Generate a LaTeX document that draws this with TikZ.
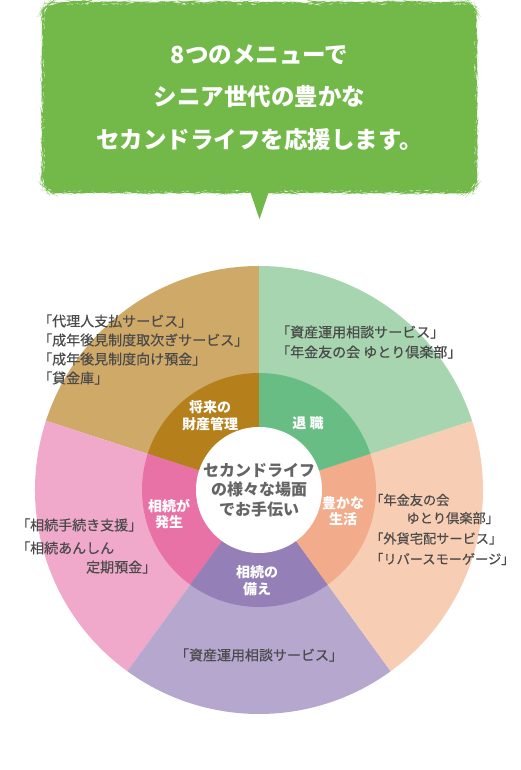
\documentclass[tikz,border=0pt]{standalone}
\usepackage{fontspec}
\newfontfamily\jpfont{Noto Sans CJK JP}
\newfontfamily\jpmed[FakeBold=0.4]{Noto Sans CJK JP}
\usetikzlibrary{decorations.pathmorphing}
\definecolor{bubblegreen}{HTML}{72B94A}
\definecolor{tanout}{HTML}{CFA968}
\definecolor{taninn}{HTML}{B5801C}
\definecolor{greenout}{HTML}{A6D5AF}
\definecolor{greeninn}{HTML}{68BD84}
\definecolor{orangeout}{HTML}{F7CEB4}
\definecolor{orangeinn}{HTML}{F2AC8B}
\definecolor{purpleout}{HTML}{B6A7CF}
\definecolor{purpleinn}{HTML}{9480B7}
\definecolor{pinkout}{HTML}{F0A9CB}
\definecolor{pinkinn}{HTML}{E872A6}
\definecolor{textgray}{HTML}{4A4A4A}

\begin{document}
\begin{tikzpicture}[x=1pt, y=1pt,
  bubble/.style={fill=bubblegreen, rounded corners=12pt, minimum width=433pt,
    minimum height=189pt, text=white, align=center,
    font=\jpfont\bfseries\fontsize{23.5}{42.5}\selectfont,
    decorate, decoration={random steps, segment length=2pt, amplitude=0.35pt}},
  menu/.style={font=\jpmed\fontsize{14}{19}\selectfont, text=textgray,
    align=left, inner sep=0pt},
  scene/.style={font=\jpfont\bfseries\fontsize{14}{16.5}\selectfont, text=white,
    align=center, inner sep=0pt}]
  \useasboundingbox (0,0) rectangle (520,770);
  \coordinate (c) at (259,280);

  \fill[tanout] (c) -- ++(90:224) arc[start angle=90, end angle=162, radius=224] -- cycle;
  \fill[pinkout] (c) -- ++(162:224) arc[start angle=162, end angle=234, radius=224] -- cycle;
  \fill[purpleout] (c) -- ++(234:224) arc[start angle=234, end angle=306, radius=224] -- cycle;
  \fill[orangeout] (c) -- ++(306:224) arc[start angle=306, end angle=378, radius=224] -- cycle;
  \fill[greenout] (c) -- ++(18:224) arc[start angle=18, end angle=90, radius=224] -- cycle;
  \fill[taninn] (c) -- ++(90:117) arc[start angle=90, end angle=162, radius=117] -- cycle;
  \fill[pinkinn] (c) -- ++(162:117) arc[start angle=162, end angle=234, radius=117] -- cycle;
  \fill[purpleinn] (c) -- ++(234:117) arc[start angle=234, end angle=306, radius=117] -- cycle;
  \fill[orangeinn] (c) -- ++(306:117) arc[start angle=306, end angle=378, radius=117] -- cycle;
  \fill[greeninn] (c) -- ++(18:117) arc[start angle=18, end angle=90, radius=117] -- cycle;
  \fill[white] (c) circle[radius=63];

  \node[bubble] (msg) at (259.5,672.5)
    {8つのメニューで\\シニア世代の豊かな\\セカンドライフを応援します。};
  \fill[bubblegreen] ([xshift=-9.5pt,yshift=1pt]msg.south) -- ([yshift=-27pt]msg.south)
    -- ([xshift=9.5pt,yshift=1pt]msg.south) -- cycle;

  \node[font=\jpfont\bfseries\fontsize{16}{19.5}\selectfont, text=textgray!85,
    align=center, inner sep=0pt] (hub) at (c) {セカンドライフ\\の様々な場面\\でお手伝い};

  \node[scene] (future) at (210,354.5) {将来の\\財産管理};
  \node[scene] (retire) at (308,347) {退 職};
  \node[scene] (rich) at (343,259) {豊かな\\生活};
  \node[scene] (occur) at (169,256) {相続が\\発生};
  \node[scene] (prep) at (257,189.5) {相続の\\備え};

  \node[menu, anchor=west] (futuremenu) at (38,420.5)
    {「代理人支払サービス」\\「成年後見制度取次ぎサービス」\\「成年後見制度向け預金」\\「貸金庫」};
  \node[menu, font=\jpmed\fontsize{14}{20}\selectfont, anchor=west] (retiremenu) at (276,428)
    {「資産運用相談サービス」\\「年金友の会 ゆとり倶楽部」};
  \node[menu, font=\jpmed\fontsize{13.2}{20.5}\selectfont, anchor=west] (richmenu) at (370,240.5)
    {「年金友の会\\[-2.5pt]\hspace*{2.75em}ゆとり倶楽部」\\「外貨宅配サービス」\\「リバースモーゲージ」};
  \node[menu, anchor=west] (occurmenu) at (16,224)
    {「相続手続き支援」\\[4pt]「相続あんしん\\\hspace*{5em}定期預金」};
  \node[menu] (prepmenu) at (259,115) {「資産運用相談サービス」};
\end{tikzpicture}
\end{document}
